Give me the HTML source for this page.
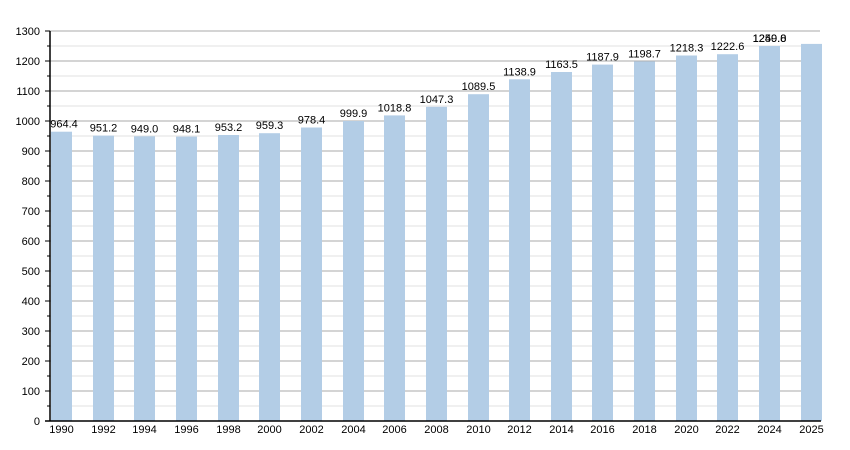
<!DOCTYPE html>
<html><head><style>body{margin:0;background:#fff}svg{display:block;font-family:"Liberation Sans",sans-serif}</style></head>
<body>
<svg width="850" height="450" xmlns="http://www.w3.org/2000/svg">
<g stroke="#e2e2e2" stroke-width="1">
<line x1="50" x2="820" y1="406" y2="406"/><line x1="50" x2="820" y1="376" y2="376"/><line x1="50" x2="820" y1="346" y2="346"/><line x1="50" x2="820" y1="316" y2="316"/><line x1="50" x2="820" y1="286" y2="286"/><line x1="50" x2="820" y1="256" y2="256"/><line x1="50" x2="820" y1="226" y2="226"/><line x1="50" x2="820" y1="196" y2="196"/><line x1="50" x2="820" y1="166" y2="166"/><line x1="50" x2="820" y1="136" y2="136"/><line x1="50" x2="820" y1="106" y2="106"/><line x1="50" x2="820" y1="76" y2="76"/><line x1="50" x2="820" y1="46" y2="46"/>
</g>
<g stroke="#aaaaaa" stroke-width="1">
<line x1="50" x2="820" y1="391" y2="391"/><line x1="50" x2="820" y1="361" y2="361"/><line x1="50" x2="820" y1="331" y2="331"/><line x1="50" x2="820" y1="301" y2="301"/><line x1="50" x2="820" y1="271" y2="271"/><line x1="50" x2="820" y1="241" y2="241"/><line x1="50" x2="820" y1="211" y2="211"/><line x1="50" x2="820" y1="181" y2="181"/><line x1="50" x2="820" y1="151" y2="151"/><line x1="50" x2="820" y1="121" y2="121"/><line x1="50" x2="820" y1="91" y2="91"/><line x1="50" x2="820" y1="61" y2="61"/><line x1="50" x2="820" y1="31" y2="31"/>
</g>
<g fill="#b3cde6">
<rect x="51" y="131.7" width="21" height="289.3"/>
<rect x="93" y="135.6" width="21" height="285.4"/>
<rect x="134" y="136.3" width="21" height="284.7"/>
<rect x="176" y="136.6" width="21" height="284.4"/>
<rect x="218" y="135.0" width="21" height="286"/>
<rect x="259" y="133.2" width="21" height="287.8"/>
<rect x="301" y="127.5" width="21" height="293.5"/>
<rect x="343" y="121.0" width="21" height="300"/>
<rect x="384" y="115.4" width="21" height="305.6"/>
<rect x="426" y="106.8" width="21" height="314.2"/>
<rect x="468" y="94.2" width="21" height="326.8"/>
<rect x="509" y="79.3" width="21" height="341.7"/>
<rect x="551" y="72.0" width="21" height="349"/>
<rect x="592" y="64.6" width="21" height="356.4"/>
<rect x="634" y="61.4" width="21" height="359.6"/>
<rect x="676" y="55.5" width="21" height="365.5"/>
<rect x="717" y="54.2" width="21" height="366.8"/>
<rect x="759" y="46" width="21" height="375"/>
<rect x="801" y="43.9" width="21" height="377.1"/>
</g>
<g font-size="11" text-anchor="middle" fill="#000">
<text x="64" y="127.7">964.4</text>
<text x="103.5" y="131.6">951.2</text>
<text x="144.5" y="132.3">949.0</text>
<text x="186.5" y="132.6">948.1</text>
<text x="228.5" y="131">953.2</text>
<text x="269.5" y="129.2">959.3</text>
<text x="311.5" y="123.5">978.4</text>
<text x="353.5" y="117">999.9</text>
<text x="394.5" y="111.4">1018.8</text>
<text x="436.5" y="102.8">1047.3</text>
<text x="478.5" y="90.2">1089.5</text>
<text x="519.5" y="75.3">1138.9</text>
<text x="561.5" y="68">1163.5</text>
<text x="602.5" y="60.6">1187.9</text>
<text x="644.5" y="57.4">1198.7</text>
<text x="686.5" y="51.5">1218.3</text>
<text x="727.5" y="50.2">1222.6</text>
<text x="769.5" y="42">1250.0</text>
<text x="769.5" y="42">1249.8</text>
</g>
<g font-size="11" text-anchor="middle" fill="#000">
<text x="61.5" y="433">1990</text><text x="103.5" y="433">1992</text><text x="144.5" y="433">1994</text><text x="186.5" y="433">1996</text><text x="228.5" y="433">1998</text><text x="269.5" y="433">2000</text><text x="311.5" y="433">2002</text><text x="353.5" y="433">2004</text><text x="394.5" y="433">2006</text><text x="436.5" y="433">2008</text><text x="478.5" y="433">2010</text><text x="519.5" y="433">2012</text><text x="561.5" y="433">2014</text><text x="602.5" y="433">2016</text><text x="644.5" y="433">2018</text><text x="686.5" y="433">2020</text><text x="727.5" y="433">2022</text><text x="769.5" y="433">2024</text><text x="811.5" y="433">2025</text>
</g>
<g font-size="11" text-anchor="end" fill="#000">
<text x="40" y="425">0</text><text x="40" y="395">100</text><text x="40" y="365">200</text><text x="40" y="335">300</text><text x="40" y="305">400</text><text x="40" y="275">500</text><text x="40" y="245">600</text><text x="40" y="215">700</text><text x="40" y="185">800</text><text x="40" y="155">900</text><text x="40" y="125">1000</text><text x="40" y="95">1100</text><text x="40" y="65">1200</text><text x="40" y="35">1300</text>
</g>
<g stroke="#000" stroke-width="1">
<line x1="45" x2="50" y1="391" y2="391"/><line x1="45" x2="50" y1="361" y2="361"/><line x1="45" x2="50" y1="331" y2="331"/><line x1="45" x2="50" y1="301" y2="301"/><line x1="45" x2="50" y1="271" y2="271"/><line x1="45" x2="50" y1="241" y2="241"/><line x1="45" x2="50" y1="211" y2="211"/><line x1="45" x2="50" y1="181" y2="181"/><line x1="45" x2="50" y1="151" y2="151"/><line x1="45" x2="50" y1="121" y2="121"/><line x1="45" x2="50" y1="91" y2="91"/><line x1="45" x2="50" y1="61" y2="61"/><line x1="45" x2="50" y1="31" y2="31"/>
<line x1="47" x2="50" y1="406" y2="406"/><line x1="47" x2="50" y1="376" y2="376"/><line x1="47" x2="50" y1="346" y2="346"/><line x1="47" x2="50" y1="316" y2="316"/><line x1="47" x2="50" y1="286" y2="286"/><line x1="47" x2="50" y1="256" y2="256"/><line x1="47" x2="50" y1="226" y2="226"/><line x1="47" x2="50" y1="196" y2="196"/><line x1="47" x2="50" y1="166" y2="166"/><line x1="47" x2="50" y1="136" y2="136"/><line x1="47" x2="50" y1="106" y2="106"/><line x1="47" x2="50" y1="76" y2="76"/><line x1="47" x2="50" y1="46" y2="46"/>
</g>
<line x1="50" x2="50" y1="31" y2="421" stroke="#000" stroke-width="1.5"/>
<line x1="45" x2="821" y1="421" y2="421" stroke="#000" stroke-width="1.5"/>
</svg>
</body></html>
